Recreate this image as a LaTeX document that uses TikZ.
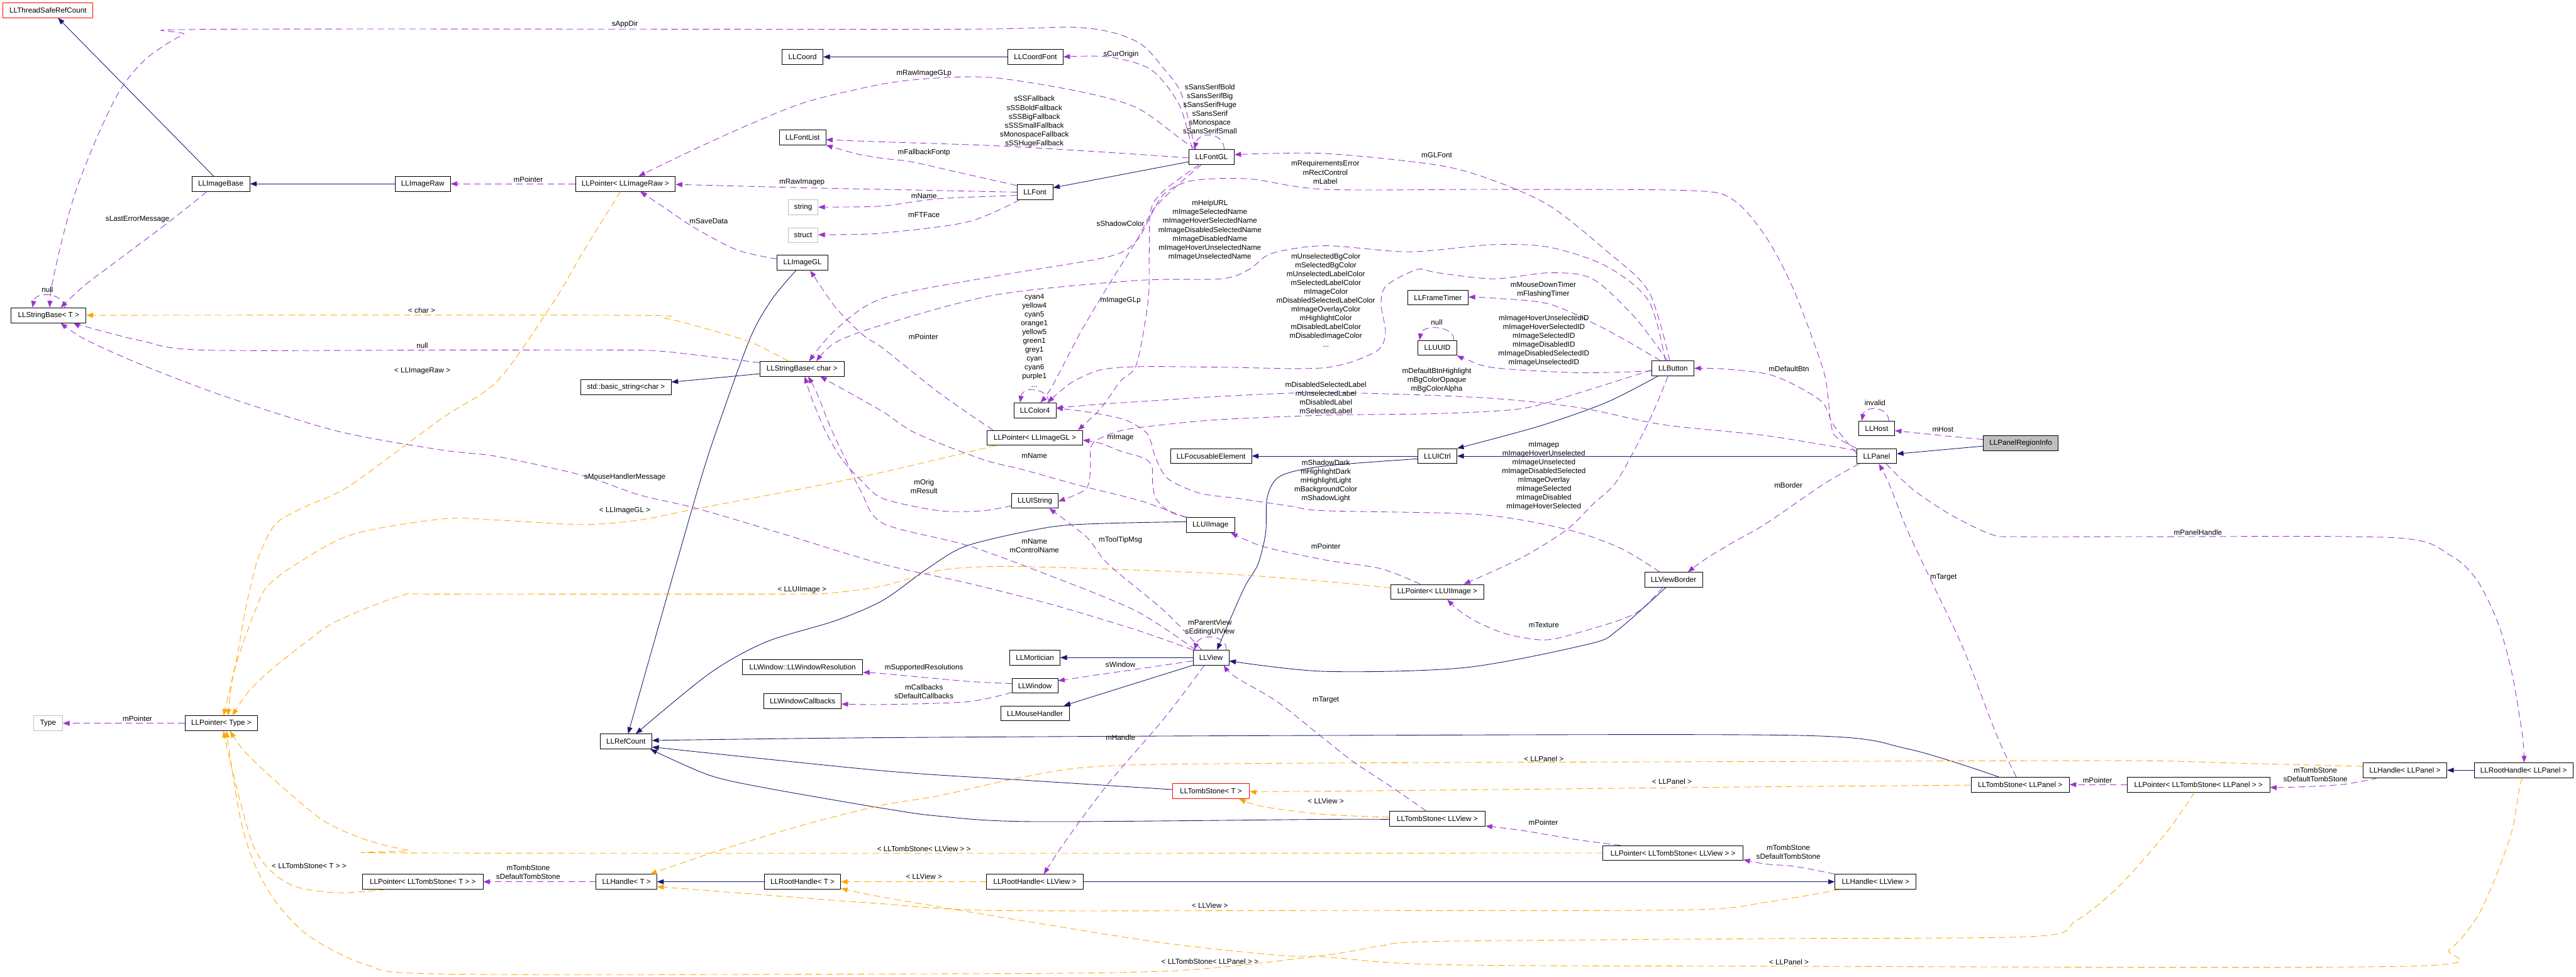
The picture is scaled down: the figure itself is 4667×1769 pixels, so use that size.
\documentclass[tikz,border=0pt]{standalone}
\usepackage{fontspec}
\setmainfont{Liberation Sans}
\usetikzlibrary{arrows.meta}
\definecolor{inhc}{HTML}{191970}
\definecolor{usec}{HTML}{9A32CD}
\definecolor{tmpc}{HTML}{FFA500}
\definecolor{greyc}{HTML}{BFBFBF}
\newcommand\dfont{\fontsize{13.3}{16}\selectfont}
\begin{document}
\begin{tikzpicture}[x=1pt,y=-1pt,
  cls/.style={draw=black, fill=white, line width=1pt, minimum height=27pt, inner sep=0pt, font=\dfont},
  redcls/.style={cls, draw=red},
  greycls/.style={cls, draw=greyc},
  lbl/.style={font=\dfont, align=center, inner sep=0pt},
  inh/.style={draw=inhc, line width=1pt, -{Triangle[length=12pt,width=9pt]}},
  use/.style={draw=usec, line width=1pt, dash pattern=on 12pt off 7pt, -{Triangle[length=12pt,width=9pt]}},
  tmp/.style={draw=tmpc, line width=1pt, dash pattern=on 12pt off 7pt, -{Triangle[length=12pt,width=9pt]}},
  sm/.style={smooth, tension=0.5}
]
\useasboundingbox (0,0) rectangle (4667,1769);
\fill[white] (0,0) rectangle (4667,1769);
% ---------- nodes
\node[redcls, minimum width=163pt] (tsrc) at (87,18.5) {LLThreadSafeRefCount};
\node[cls, minimum width=105pt] (imgbase) at (400,333) {LLImageBase};
\node[cls, minimum width=100pt] (imgraw) at (766,333) {LLImageRaw};
\node[cls, minimum width=136pt] (sbT) at (88,571) {LLStringBase< T >};
\node[cls, minimum width=74pt] (coord) at (1454,103) {LLCoord};
\node[cls, minimum width=84pt] (fontlist) at (1454,249) {LLFontList};
\node[cls, minimum width=181pt] (ptrraw) at (1133,333) {LLPointer< LLImageRaw >};
\node[greycls, minimum width=54pt] (string) at (1455,375) {string};
\node[greycls, minimum width=54pt] (struct) at (1455,426) {struct};
\node[cls, minimum width=92pt] (imggl) at (1454,476) {LLImageGL};
\node[cls, minimum width=153pt] (sbc) at (1453,668) {LLStringBase< char >};
\node[cls, minimum width=164pt] (stdstr) at (1134,701) {std::basic\_string<char >};
\node[cls, minimum width=100pt] (coordfont) at (1876,103) {LLCoordFont};
\node[cls, minimum width=82pt] (fontgl) at (2195,284) {LLFontGL};
\node[cls, minimum width=65pt] (font) at (1875,348) {LLFont};
\node[cls, minimum width=76pt] (color4) at (1875,743) {LLColor4};
\node[cls, minimum width=173pt] (ptrgl) at (1875,793) {LLPointer< LLImageGL >};
\node[cls, minimum width=147pt] (focus) at (2194,826) {LLFocusableElement};
\node[cls, minimum width=84pt] (uistring) at (1875,907) {LLUIString};
\node[cls, minimum width=110pt] (frametimer) at (2605,539) {LLFrameTimer};
\node[cls, minimum width=70pt] (uuid) at (2604,630) {LLUUID};
\node[cls, minimum width=76pt] (button) at (3031,667) {LLButton};
\node[cls, minimum width=71pt] (uictrl) at (2604,826) {LLUICtrl};
\node[cls, minimum width=65pt] (host) at (3400,776) {LLHost};
\node[cls, minimum width=72pt] (panel) at (3400,826) {LLPanel};
\node[cls, fill=greyc, minimum width=136pt] (pri) at (3661,803) {LLPanelRegionInfo};
\node[greycls, minimum width=53pt] (type) at (87,1310) {Type};
\node[cls, minimum width=132pt] (ptrtype) at (401,1310) {LLPointer< Type >};
\node[cls, minimum width=218pt] (ptrtsT) at (766,1597) {LLPointer< LLTombStone< T > >};
\node[cls, minimum width=94pt] (refcount) at (1134,1343) {LLRefCount};
\node[cls, minimum width=218pt] (winres) at (1454,1208) {LLWindow::LLWindowResolution};
\node[cls, minimum width=140pt] (wincb) at (1454,1270) {LLWindowCallbacks};
\node[cls, minimum width=110pt] (handleT) at (1135,1597) {LLHandle< T >};
\node[cls, minimum width=138pt] (rootT) at (1454,1597) {LLRootHandle< T >};
\node[cls, minimum width=88pt] (uiimage) at (2193,951) {LLUIImage};
\node[cls, minimum width=65pt] (view) at (2194,1191) {LLView};
\node[cls, minimum width=91pt] (mortician) at (1875,1191) {LLMortician};
\node[cls, minimum width=83pt] (window) at (1875,1242) {LLWindow};
\node[cls, minimum width=124pt] (mouse) at (1875,1292) {LLMouseHandler};
\node[redcls, minimum width=139pt] (tsT) at (2194,1433) {LLTombStone< T >};
\node[cls, minimum width=175pt] (rootview) at (1875,1597) {LLRootHandle< LLView >};
\node[cls, minimum width=168pt] (ptrui) at (2604,1072) {LLPointer< LLUIImage >};
\node[cls, minimum width=105pt] (border) at (3032,1050) {LLViewBorder};
\node[cls, minimum width=174pt] (tsview) at (2604,1483) {LLTombStone< LLView >};
\node[cls, minimum width=254pt] (ptrtsview) at (3031,1545) {LLPointer< LLTombStone< LLView > >};
\node[cls, minimum width=178pt] (tspanel) at (3660,1421) {LLTombStone< LLPanel >};
\node[cls, minimum width=258pt] (ptrtspanel) at (3983,1421) {LLPointer< LLTombStone< LLPanel > >};
\node[cls, minimum width=147pt] (handleview) at (3398,1597) {LLHandle< LLView >};
\node[cls, minimum width=152pt] (handlepanel) at (4357,1395) {LLHandle< LLPanel >};
\node[cls, minimum width=179pt] (rootpanel) at (4572,1395) {LLRootHandle< LLPanel >};
% ---------- inheritance
\draw[inh] ([xshift=-13pt]imgbase.north) -- ([xshift=18pt]tsrc.south);
\draw[inh] (imgraw) -- (imgbase);
\draw[inh] plot[sm] coordinates {([xshift=-12pt]imggl.south) (1400,540) (1361,608) (1310,746) (1263,890) ([xshift=4pt]refcount.north)};
\draw[inh] ([yshift=-9pt]sbc.west) -- ([yshift=9pt]stdstr.east);
\draw[inh] ([yshift=-9pt]fontgl.west) -- ([yshift=8pt]font.east);
\draw[inh] (coordfont) -- (coord);
\draw[inh] plot[sm] coordinates {([xshift=-27pt]button.south) (2910,729) (2788,772) (uictrl.north east)};
\draw[inh] (panel) -- (uictrl);
\draw[inh] (uictrl) -- (focus);
\draw[inh] plot[sm] coordinates {([yshift=-5pt]uictrl.west) (2400,844) (2320,862) (2296,900) (2293,965) (2279,1022) (2253,1067) ([xshift=11pt]view.north)};
\draw[inh] (view) -- (mortician);
\draw[inh] (view.south west) -- ([xshift=-10pt]mouse.north east);
\draw[inh] plot[sm] coordinates {([yshift=6pt]uiimage.west) (2000,948) (1900,955) (1753,988) (1680,1030) (1600,1087) (1514,1124) (1387,1163) (1285,1220) ([xshift=18pt]refcount.north)};
\draw[inh] plot[sm] coordinates {([xshift=-14pt]border.south) (2931,1141) (2880,1166) (2655,1209) (2400,1216) ([yshift=-6pt]view.east)};
\draw[inh] plot[sm] coordinates {([xshift=-39pt]tspanel.north) (3455,1356) (3261,1332) (2400,1332) (1600,1336) ([yshift=2pt]refcount.east)};
\draw[inh] plot[sm] coordinates {([yshift=3pt]tsT.west) (1855,1413) (1600,1396) ([yshift=-10pt]refcount.east)};
\draw[inh] plot[sm] coordinates {([yshift=-1pt]tsview.west) (2400,1484) (1870,1488) (1700,1478) (1600,1464) (1387,1427) (1285,1404) ([xshift=-3pt]refcount.south east)};
\draw[inh] (rootT) -- (handleT);
\draw[inh] (rootview) -- (handleview);
\draw[inh] (rootpanel) -- (handlepanel);
\draw[inh] ([yshift=-5pt]pri.west) -- ([yshift=4pt]panel.east);
% ---------- template instances
\draw[tmp] plot[sm] coordinates {([xshift=-25pt]sbc.north) (1361,620) (1285,597) (1208,577) (1130,571) (sbT.east)};
\draw[tmp] plot[sm] coordinates {([xshift=-9pt]ptrraw.south) (1060,450) (1004,545) (902,689) (800,758) (633,880) (561,914) (515,937) (495,954) (480,982) (464,1022) (444,1107) (429,1192) ([xshift=4pt]ptrtype.north)};
\draw[tmp] plot[sm] coordinates {([xshift=-71pt]ptrgl.south) (1600,855) (1479,880) (1259,922) (1157,942) (1055,950) (902,942) (800,940) (638,968) (536,1022) (490,1056) (474,1078) (449,1141) (423,1220) ([xshift=12pt]ptrtype.north)};
\draw[tmp] plot[sm] coordinates {([yshift=7pt]ptrui.west) (2400,1053) (2212,1039) (1957,1029) (1804,1026) (1702,1033) (1600,1061) (1504,1074) (1400,1076) (800,1076) (730,1078) (612,1124) (561,1158) (490,1214) (449,1254) ([xshift=20pt]ptrtype.north)};
\draw[tmp] plot[sm] coordinates {(ptrtsview.west) (800,1545) (740,1540) (663,1521) (587,1487) (510,1424) (444,1362) ([xshift=16pt]ptrtype.south)};
\draw[tmp] plot[sm] coordinates {([xshift=-67pt]ptrtsT.south) (612,1617) (536,1606) (490,1577) (459,1532) (434,1447) (413,1362) ([xshift=4pt]ptrtype.south)};
\draw[tmp] plot[sm] coordinates {([xshift=-7pt]ptrtspanel.south) (3924,1509) (3838,1606) (3761,1668) (3685,1696) (3200,1700) (2604,1705) (2502,1713) (2400,1730) (2110,1759) (1600,1764) (800,1764) (663,1747) (561,1696) (500,1634) (459,1560) (434,1475) ([xshift=9pt]ptrtype.south)};
\draw[tmp] plot[sm] coordinates {([xshift=-1pt]rootpanel.south) (4565,1424) (4551,1504) (4521,1589) (4487,1662) (4438,1719) (4360,1750) (3200,1750) (2604,1747) (2400,1733) (2314,1730) (2110,1708) (1855,1668) (1600,1625) ([yshift=-12pt]rootT.east)};
\draw[tmp] (rootview) -- (rootT);
\draw[tmp] plot[sm] coordinates {([xshift=-65pt]handleview.south) (3200,1634) (3050,1648) (2400,1649) (1800,1649) (1600,1637) (1412,1623) (1259,1611) ([yshift=-9pt]handleT.east)};
\draw[tmp] plot[sm] coordinates {([yshift=7pt]handlepanel.west) (4047,1382) (3900,1378) (3620,1378) (2400,1382) (2008,1387) (1855,1407) (1702,1441) (1600,1458) (1463,1492) (1310,1538) ([xshift=43pt]handleT.north)};
\draw[tmp] plot[sm] coordinates {([yshift=-1pt]tspanel.west) (3200,1425) (2400,1433) (tsT.east)};
\draw[tmp] plot[sm] coordinates {([yshift=3pt]tsview.west) (2400,1475) (2289,1461) ([xshift=51pt]tsT.south)};
% ---------- usage
\draw[use] plot[sm] coordinates {([xshift=-30pt]fontgl.north) (2141,172) (2110,126) (2059,75) (1957,50) (1700,53) (388,53) (332,63) (265,106) (219,161) (179,241) (138,344) (112,436) (94,517) ([xshift=2pt]sbT.north)};
\draw[use] plot[sm] coordinates {([xshift=-25pt]imgbase.south) (306,402) (214,471) (153,517) ([xshift=22pt]sbT.north)};
\draw[use] ([xshift=30pt]sbT.north) .. controls (112,528) and (64,528) .. ([xshift=-29pt]sbT.north);
\draw[use] plot[sm] coordinates {([yshift=11pt]sbc.west) (1336,652) (1208,637) (1132,634) (800,634) (367,634) (255,617) (153,591) ([xshift=45pt]sbT.south)};
\draw[use] plot[sm] coordinates {(view.north west) (2059,1141) (1906,1095) (1753,1056) (1600,1022) (1412,965) (1259,920) (1157,896) (1055,861) (902,827) (800,815) (612,781) (408,718) (255,660) (153,614) ([xshift=22pt]sbT.south)};
\draw[use] (ptrraw) -- (imgraw);
\draw[use] plot[sm] coordinates {(font.west) (1600,343) (1453,340) (1300,336) ([yshift=-1pt]ptrraw.east)};
\draw[use] plot[sm] coordinates {([xshift=-28pt]fontgl.north) (2141,253) (2059,195) (1957,166) (1804,141) (1702,141) (1600,152) (1463,184) (1361,224) (1259,270) ([xshift=24pt]ptrraw.north)};
\draw[use] plot[sm] coordinates {([yshift=7pt]imggl.west) (1336,453) (1259,413) (1208,379) ([xshift=27pt]ptrraw.south)};
\draw[use] plot[sm] coordinates {([yshift=-2pt]fontgl.west) (2008,276) (1804,264) (1600,257) ([yshift=-4pt]fontlist.east)};
\draw[use] plot[sm] coordinates {([yshift=12pt]font.west) (1753,316) (1651,293) (1600,287) (1550,278) (fontlist.south east)};
\draw[use] plot[sm] coordinates {([yshift=-6pt]font.west) (1700,360) (1600,373) (1520,375) (string.east)};
\draw[use] plot[sm] coordinates {([xshift=-28pt]font.south) (1753,402) (1600,422) (1520,425) ([yshift=1pt]struct.east)};
\draw[use] plot[sm] coordinates {([xshift=-35pt]fontgl.north) (2136,189) (2085,126) (2008,103) (coordfont.east)};
\draw[use] ([xshift=23pt]fontgl.north) .. controls (2216,238) and (2172,238) .. ([xshift=-31pt]fontgl.north);
\draw[use] plot[sm] coordinates {([xshift=-18pt]fontgl.south) (2136,333) (2090,379) (2059,436) (2008,517) (1957,603) (1906,700) ([xshift=10pt]color4.north)};
\draw[use] plot[sm] coordinates {([xshift=-22pt]fontgl.south) (2110,344) (2085,380) (2082,459) (2080,545) (2059,660) (2030,690) (1994,740) ([xshift=78pt]ptrgl.north)};
\draw[use] plot[sm] coordinates {(panel.north west) (3325,790) (3316,760) (3312,720) (3302,666) (3251,528) (3200,430) (3140,362) (3060,345) (2700,343) (2400,343) (2263,324) (2161,327) (2110,350) (2085,390) (2059,436) (2008,465) (1804,500) (1600,540) (1514,597) ([xshift=13pt]sbc.north)};
\draw[use] plot[sm] coordinates {([xshift=-14pt]button.north) (2987,545) (2910,482) (2808,448) (2706,443) (2553,456) (2400,445) (2304,459) (2263,488) (2212,505) (2059,508) (1804,534) (1600,588) (1514,620) ([xshift=26pt]sbc.north)};
\draw[use] plot[sm] coordinates {([xshift=-10pt]button.north) (2961,574) (2885,505) (2808,494) (2706,505) (2604,494) (2568,488) (2512,517) (2502,551) (2510,603) (2492,637) (2400,666) (2209,665) (2066,664) (1994,670) (1941,693) ([xshift=23pt]color4.north)};
\draw[use] plot[sm] coordinates {([yshift=-3pt]button.west) (2859,712) (2757,740) (2604,749) (2400,752) (2209,760) (2101,770) (2030,780) (1987,797) (1976,813) (1975,857) (1966,887) ([yshift=-1pt]uistring.east)};
\draw[use] plot[sm] coordinates {([yshift=10pt]panel.west) (3200,789) (3012,769) (2859,738) (2681,720) (2400,711) (2209,718) (2101,725) (1994,732) ([yshift=4pt]color4.east)};
\draw[use] plot[sm] coordinates {([xshift=-6pt]button.north) (2987,528) (2910,454) (2808,373) (2706,327) (2604,299) (2400,278) ([yshift=4pt]fontgl.east)};
\draw[use] plot[sm] coordinates {([xshift=-23pt]button.north) (2910,597) (2808,551) (2706,540) ([yshift=1pt]frametimer.east)};
\draw[use] ([xshift=30pt]uuid.north) .. controls (2634,588) and (2576,588) .. ([xshift=-32pt]uuid.north);
\draw[use] plot[sm] coordinates {([yshift=-5pt]button.west) (2859,675) (2706,666) (2655,650) (uuid.south east)};
\draw[use] plot[sm] coordinates {([xshift=-9pt]button.south) (2987,764) (2930,870) (2885,914) (2839,959) (2757,1010) ([xshift=48pt]ptrui.north)};
\draw[use] plot[sm] coordinates {([yshift=5pt]panel.west) (3322,770) (3302,729) (3251,697) (3200,677) (3120,668) (button.east)};
\draw[use] ([xshift=22pt]host.north) .. controls (3421,735) and (3378,735) .. ([xshift=-27pt]host.north);
\draw[use] plot[sm] coordinates {([yshift=7pt]pri.west) (3520,789) ([yshift=-4pt]host.east)};
\draw[use] plot[sm] coordinates {([xshift=-32pt]panel.south) (3302,878) (3200,948) (3140,982) (3089,1013) ([xshift=26pt]border.north)};
\draw[use] plot[sm] coordinates {([xshift=-7pt]tspanel.north) (3618,1333) (3557,1175) (3506,1067) (3455,959) (3424,880) ([xshift=4pt]panel.south)};
\draw[use] plot[sm] coordinates {([xshift=17pt]panel.south) (3465,886) (3532,931) (3608,968) (3659,972) (3900,972) (4340,974) (4438,1005) (4487,1050) (4526,1129) (4551,1220) (4570,1333) ([xshift=1pt]rootpanel.north)};
\draw[use] (ptrtspanel) -- (tspanel);
\draw[use] plot[sm] coordinates {([xshift=-49pt]handlepanel.south) (4242,1421) (4145,1426) ([yshift=-5pt]ptrtspanel.east)};
\draw[use] plot[sm] coordinates {(handleview.north west) (3251,1569) (3200,1565) ([yshift=-12pt]ptrtsview.east)};
\draw[use] plot[sm] coordinates {([xshift=-95pt]ptrtsview.north) (2859,1521) (2757,1504) ([yshift=-13pt]tsview.east)};
\draw[use] plot[sm] coordinates {([xshift=-20pt]tsview.north) (2528,1430) (2451,1379) (2400,1339) (2314,1271) (2238,1226) ([xshift=23pt]view.south)};
\draw[use] (handleT) -- (ptrtsT);
\draw[use] plot[sm] coordinates {([xshift=-12pt]view.south) (2110,1300) (2008,1419) (1932,1521) ([xshift=16pt]rootview.north)};
\draw[use] ([xshift=28pt]view.north) .. controls (2222,1148) and (2172,1148) .. ([xshift=-30pt]view.north);
\draw[use] plot[sm] coordinates {([xshift=-17pt]view.north) (2110,1107) (2008,1022) (1969,973) ([xshift=26pt]uistring.south)};
\draw[use] plot[sm] coordinates {([yshift=-6pt]view.west) (2059,1212) (1983,1223) ([yshift=9pt]window.east)};
\draw[use] plot[sm] coordinates {([yshift=4pt]window.west) (1753,1234) (1600,1220) ([yshift=-10pt]winres.east)};
\draw[use] plot[sm] coordinates {([yshift=-12pt]window.west) (1753,1271) (1600,1276) ([yshift=-5pt]wincb.east)};
\draw[use] plot[sm] coordinates {(uiimage.north west) (2066,907) (1959,880) (1851,850) (1780,832) (1660,785) (1600,746) (1540,712) ([xshift=33pt]sbc.south)};
\draw[use] plot[sm] coordinates {([yshift=-9pt]uistring.west) (1780,925) (1702,925) (1600,903) (1560,870) (1524,830) (1495,780) (1470,720) ([xshift=5pt]sbc.south)};
\draw[use] plot[sm] coordinates {([xshift=-28pt]view.north) (2059,1107) (1906,1044) (1753,988) (1600,948) (1560,890) (1532,832) (1505,775) (1480,712) ([xshift=11pt]sbc.south)};
\draw[use] plot[sm] coordinates {([xshift=-42pt]uiimage.north) (2119,927) (2094,903) (2088,873) (2087,845) (2073,830) (2030,817) (1994,803) ([yshift=-4pt]ptrgl.east)};
\draw[use] plot[sm] coordinates {([xshift=-20pt]border.south) (2961,1112) (2859,1146) (2798,1159) (2732,1149) (2681,1129) (2645,1107) ([xshift=18pt]ptrui.south)};
\draw[use] plot[sm] coordinates {([xshift=-31pt]ptrui.north) (2502,1030) (2400,1014) (2289,990) ([xshift=37pt]uiimage.south)};
\draw[use] plot[sm] coordinates {([xshift=-25pt]border.north) (2936,993) (2839,959) (2681,932) (2400,925) (2340,917) (2244,903) (2173,893) (2116,867) (2094,830) (2084,797) (2073,780) (2037,760) (1976,747) ([yshift=4pt]color4.east)};
\draw[use] ([xshift=26pt]color4.north) .. controls (1896,700) and (1853,700) .. ([xshift=-27pt]color4.north);
\draw[use] plot[sm] coordinates {([xshift=-76pt]ptrgl.north) (1702,712) (1600,631) (1565,608) (1514,557) ([xshift=14pt]imggl.south)};
\draw[use] (ptrtype) -- (type);
% ---------- labels
\node[lbl] (t1) at (1132,44) {sAppDir};
\node[lbl] (t2) at (249,397) {sLastErrorMessage};
\node[lbl] (t3) at (86,525) {null};
\node[lbl] (t4) at (765,626) {null};
\node[lbl] (t5) at (764,562) {< char >};
\node[lbl] (t6) at (765,672) {< LLImageRaw >};
\node[lbl] (t7) at (957,325) {mPointer};
\node[lbl] (t8) at (1453,330) {mRawImagep};
\node[lbl] (t9) at (1284,400) {mSaveData};
\node[lbl] (t10) at (1132,864) {sMouseHandlerMessage};
\node[lbl] (t11) at (2031,99) {sCurOrigin};
\node[lbl] (t12) at (1674,133) {mRawImageGLp};
\node[lbl] (t13) at (1874,220) {sSSFallback\\sSSBoldFallback\\sSSBigFallback\\sSSSmallFallback\\sMonospaceFallback\\sSSHugeFallback};
\node[lbl] (t14) at (2192,197.5) {sSansSerifBold\\sSansSerifBig\\sSansSerifHuge\\sSansSerif\\sMonospace\\sSansSerifSmall};
\node[lbl] (t15) at (1674,276) {mFallbackFontp};
\node[lbl] (t16) at (1674,355) {mName};
\node[lbl] (t17) at (1674,389) {mFTFace};
\node[lbl] (t18) at (2030,405) {sShadowColor};
\node[lbl] (t19) at (2192,417) {mHelpURL\\mImageSelectedName\\mImageHoverSelectedName\\mImageDisabledSelectedName\\mImageDisabledName\\mImageHoverUnselectedName\\mImageUnselectedName};
\node[lbl] (t20) at (1874,617) {cyan4\\yellow4\\cyan5\\orange1\\yellow5\\green1\\grey1\\cyan\\cyan6\\purple1\\...};
\node[lbl] (t21) at (2030,544) {mImageGLp};
\node[lbl] (t22) at (1673,610) {mPointer};
\node[lbl] (t23) at (2030,793) {mImage};
\node[lbl] (t24) at (1874,825) {mName};
\node[lbl] (t25) at (1674,881) {mOrig\\mResult};
\node[lbl] (t26) at (2401,312) {mRequirementsError\\mRectControl\\mLabel};
\node[lbl] (t27) at (2402,544) {mUnselectedBgColor\\mSelectedBgColor\\mUnselectedLabelColor\\mSelectedLabelColor\\mImageColor\\mDisabledSelectedLabelColor\\mImageOverlayColor\\mHighlightColor\\mDisabledLabelColor\\mDisabledImageColor\\...};
\node[lbl] (t28) at (2402,720) {mDisabledSelectedLabel\\mUnselectedLabel\\mDisabledLabel\\mSelectedLabel};
\node[lbl] (t29) at (2402,871) {mShadowDark\\mHighlightDark\\mHighlightLight\\mBackgroundColor\\mShadowLight};
\node[lbl] (t30) at (2603,281) {mGLFont};
\node[lbl] (t31) at (2796,525) {mMouseDownTimer\\mFlashingTimer};
\node[lbl] (t32) at (2603,584) {null};
\node[lbl] (t33) at (2797,617) {mImageHoverUnselectedID\\mImageHoverSelectedID\\mImageSelectedID\\mImageDisabledID\\mImageDisabledSelectedID\\mImageUnselectedID};
\node[lbl] (t34) at (2603,689) {mDefaultBtnHighlight\\mBgColorOpaque\\mBgColorAlpha};
\node[lbl] (t35) at (2797,862) {mImagep\\mImageHoverUnselected\\mImageUnselected\\mImageDisabledSelected\\mImageOverlay\\mImageSelected\\mImageDisabled\\mImageHoverSelected};
\node[lbl] (t36) at (3241,668) {mDefaultBtn};
\node[lbl] (t37) at (3397,730) {invalid};
\node[lbl] (t38) at (3520,778) {mHost};
\node[lbl] (t39) at (3240,879) {mBorder};
\node[lbl] (t40) at (249,1301) {mPointer};
\node[lbl] (t41) at (560,1568) {< LLTombStone< T > >};
\node[lbl] (t42) at (1132,925) {< LLImageGL >};
\node[lbl] (t43) at (1453,1068) {< LLUIImage >};
\node[lbl] (t44) at (957,1580) {mTombStone\\sDefaultTombStone};
\node[lbl] (t45) at (1674,1537) {< LLTombStone< LLView > >};
\node[lbl] (t46) at (1874,988) {mName\\mControlName};
\node[lbl] (t47) at (2030,978) {mToolTipMsg};
\node[lbl] (t48) at (2192,1136) {mParentView\\sEditingUIView};
\node[lbl] (t49) at (2030,1204) {sWindow};
\node[lbl] (t50) at (1674,1209) {mSupportedResolutions};
\node[lbl] (t51) at (1674,1253) {mCallbacks\\sDefaultCallbacks};
\node[lbl] (t52) at (2030,1336) {mHandle};
\node[lbl] (t53) at (1674,1587) {< LLView >};
\node[lbl] (t54) at (2192,1640) {< LLView >};
\node[lbl] (t55) at (2192,1741) {< LLTombStone< LLPanel > >};
\node[lbl] (t56) at (2402,1268) {mTarget};
\node[lbl] (t57) at (2402,989) {mPointer};
\node[lbl] (t58) at (2402,1451) {< LLView >};
\node[lbl] (t59) at (2797,1132) {mTexture};
\node[lbl] (t60) at (2797,1374) {< LLPanel >};
\node[lbl] (t61) at (3029,1416) {< LLPanel >};
\node[lbl] (t62) at (2796,1489) {mPointer};
\node[lbl] (t63) at (3240,1543) {mTombStone\\sDefaultTombStone};
\node[lbl] (t64) at (3521,1046) {mTarget};
\node[lbl] (t65) at (3982,964) {mPanelHandle};
\node[lbl] (t66) at (3800,1413) {mPointer};
\node[lbl] (t67) at (3241,1742) {< LLPanel >};
\node[lbl] (t68) at (4195,1403) {mTombStone\\sDefaultTombStone};
\end{tikzpicture}
\end{document}
